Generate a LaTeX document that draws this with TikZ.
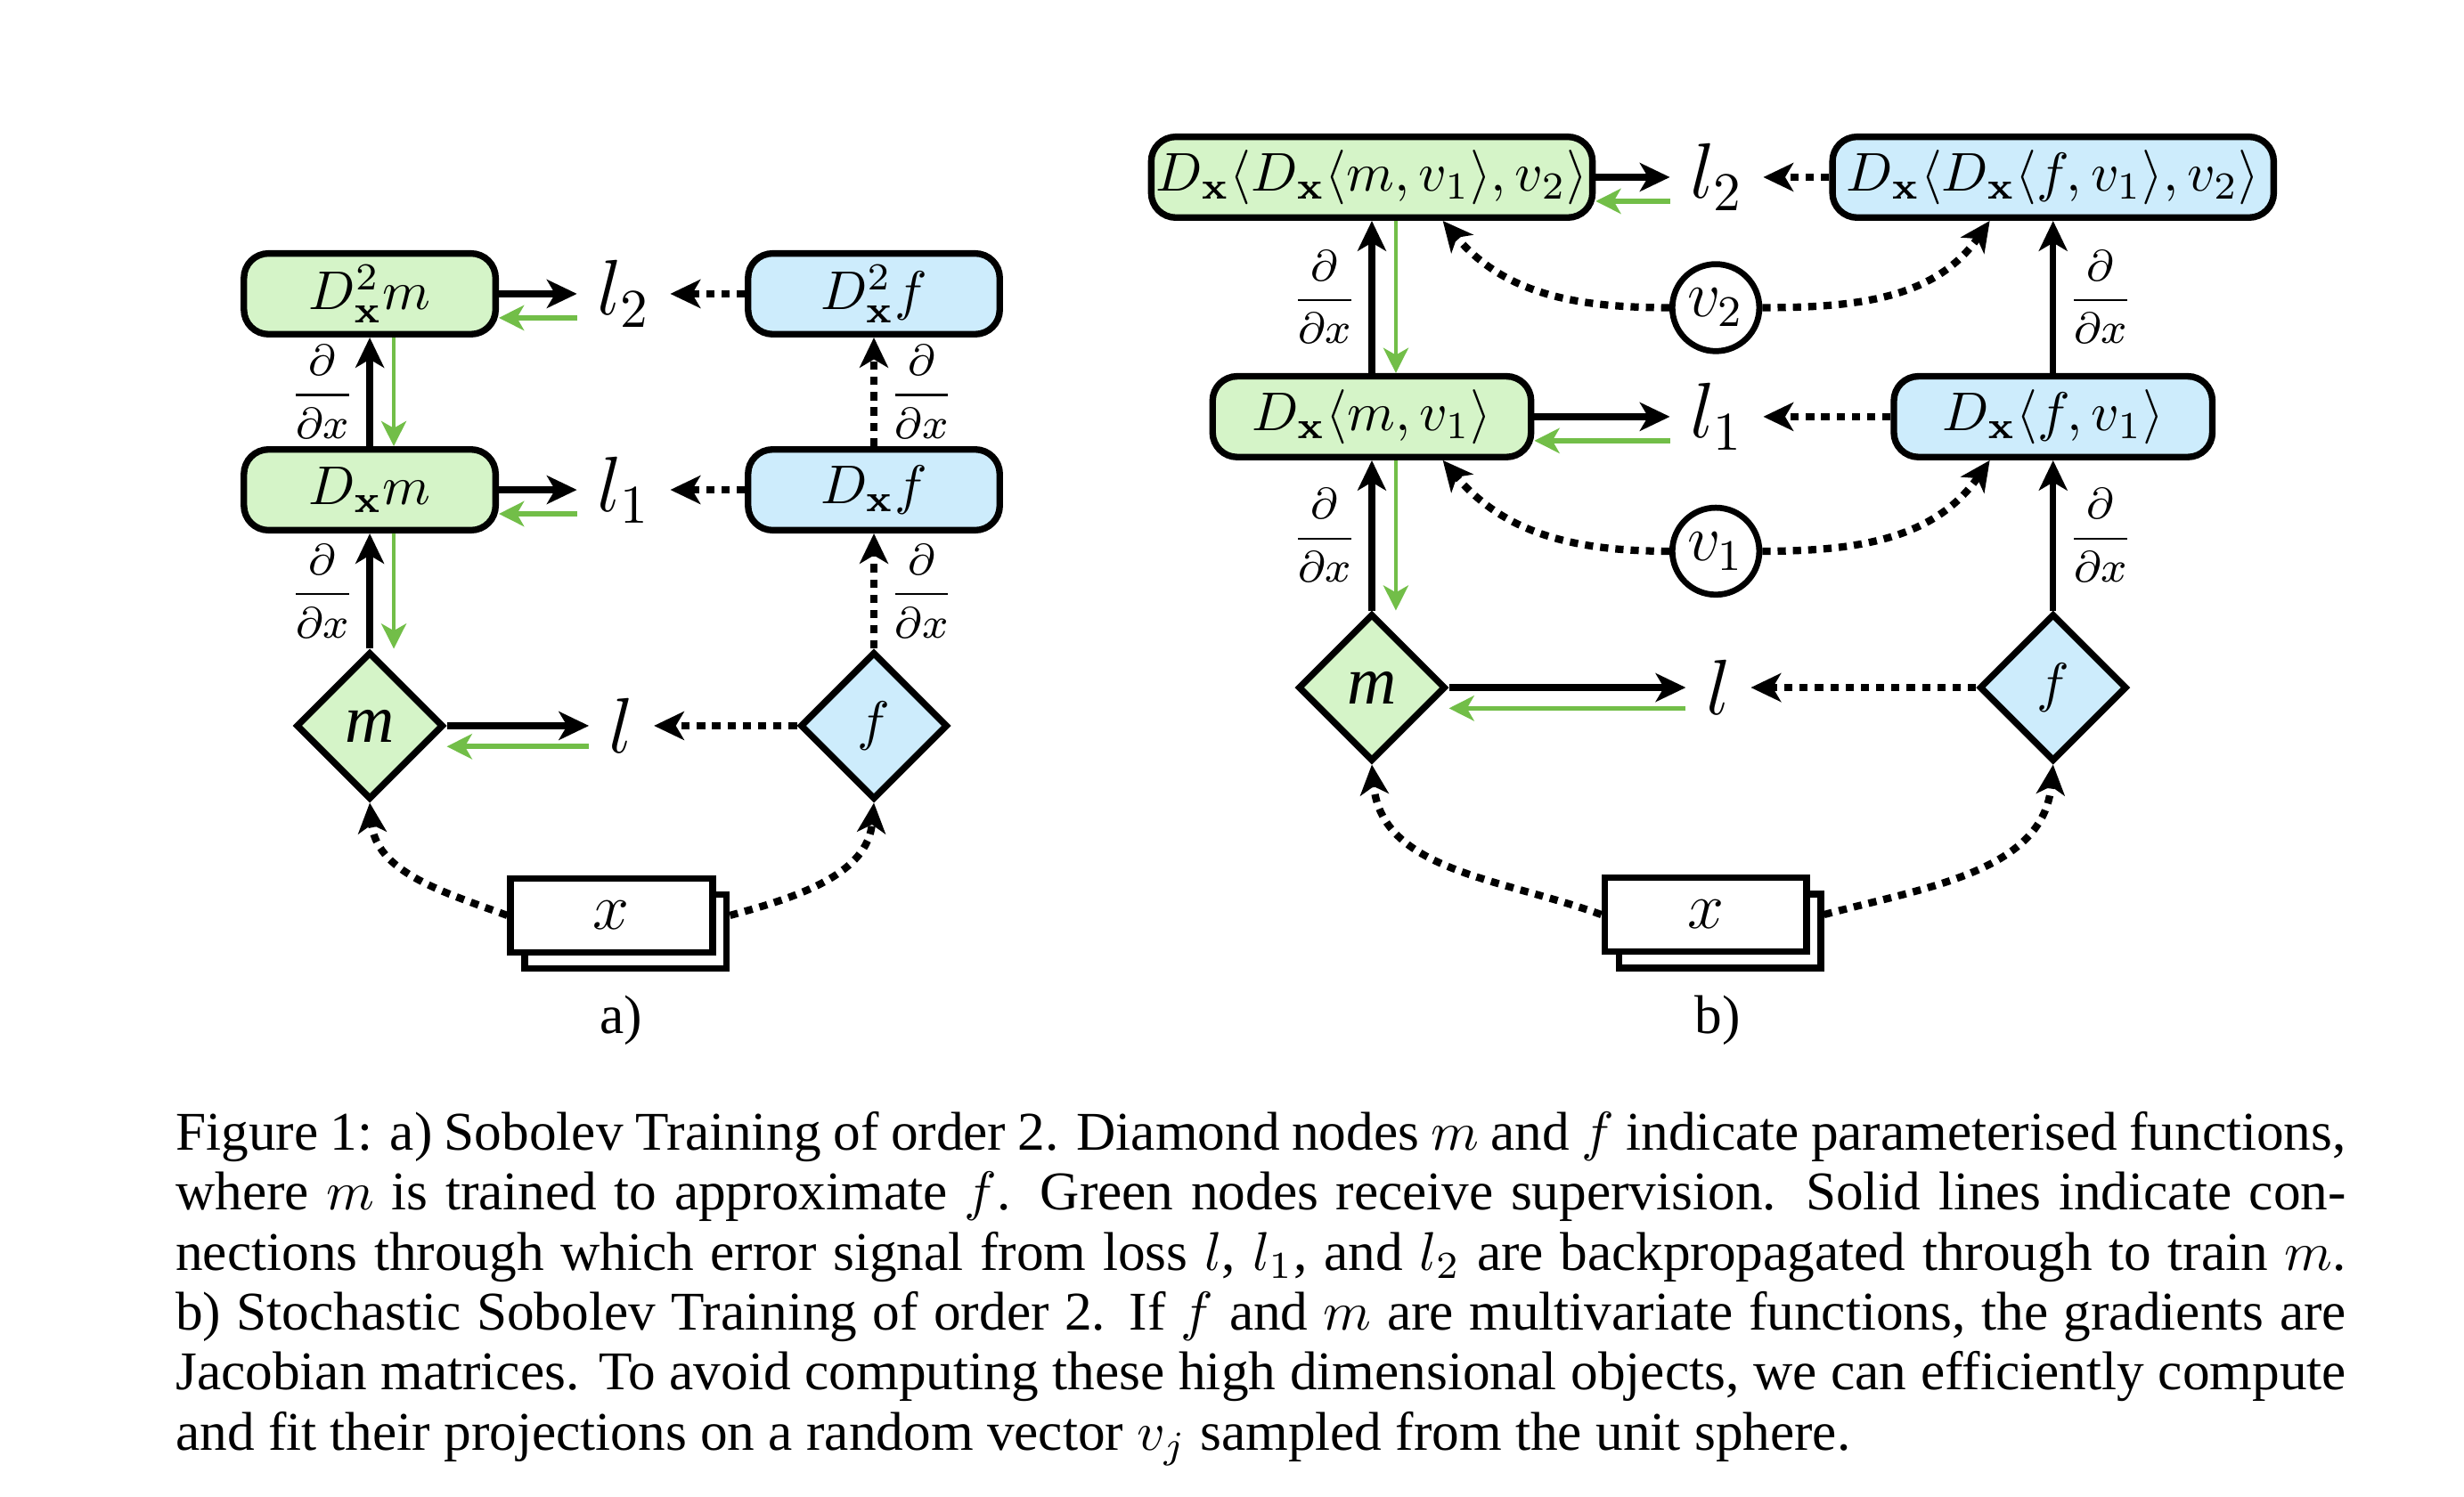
\documentclass[tikz,border=0pt]{standalone}
\usepackage[no-math]{fontspec}
\setmainfont{Liberation Serif}
\usepackage{amsmath}
\usetikzlibrary{arrows.meta,positioning,calc,shapes.geometric,shadows}

\definecolor{modelgreen}{RGB}{213,244,200}
\definecolor{targetblue}{RGB}{205,236,252}
\definecolor{gradgreen}{RGB}{114,190,72}

\newcommand{\ddx}{$\displaystyle\frac{\partial}{\partial x}$}
\newcommand{\mitem}{{\fontsize{12.5}{14}\selectfont\textit{m}}}

\begin{document}
\begin{tikzpicture}[
    font=\fontsize{10}{12}\selectfont,
    netbox/.style={draw, line width=1.2pt, rounded corners=4.5pt, minimum height=0.52cm, inner sep=0pt},
    model/.style={fill=modelgreen},
    target/.style={fill=targetblue},
    fnode/.style={diamond, draw, line width=1.2pt, aspect=1, minimum width=0.95cm, minimum height=0.95cm, inner sep=0pt},
    loss/.style={font=\fontsize{14.4}{17}\selectfont, inner sep=3.5pt},
    probe/.style={circle, draw, line width=1.1pt, minimum size=0.56cm, inner sep=0pt, font=\fontsize{12}{14}\selectfont},
    inputbox/.style={draw, fill=white, line width=1.2pt, minimum width=1.3cm, minimum height=0.476cm, inner sep=0pt,
        copy shadow={shadow xshift=2.6pt, shadow yshift=-3pt}, font=\fontsize{12}{14}\selectfont},
    fwd/.style={line width=1.2pt, -{Stealth[length=5.5pt,width=5.2pt,inset=1.5pt]}},
    tgt/.style={fwd, line width=1.35pt, dash pattern=on 1.5pt off 1.3pt},
    grad/.style={draw=gradgreen, line width=0.9pt, -{Stealth[length=4.6pt,width=4.6pt,inset=1.3pt,fill=gradgreen]}},
    gradv/.style={grad, line width=0.65pt},
    ddxl/.style={midway, left, inner sep=2pt, font=\footnotesize},
    ddxr/.style={midway, right, inner sep=2pt, font=\footnotesize}
]
    \useasboundingbox (0,0) rectangle (15.86,9.633);

    % a) Sobolev training of order 2
    \node[netbox, model, minimum width=1.62cm] (aD2m) at (2.38,7.741) {$D^2_{\mathbf{x}}m$};
    \node[netbox, target, minimum width=1.62cm] (aD2f) at (5.625,7.741) {$D^2_{\mathbf{x}}f$};
    \node[netbox, model, minimum width=1.62cm] (aDm) at (2.38,6.479) {$D_{\mathbf{x}}m$};
    \node[netbox, target, minimum width=1.62cm] (aDf) at (5.625,6.479) {$D_{\mathbf{x}}f$};
    \node[fnode, model] (am) at (2.38,4.96) {\mitem};
    \node[fnode, target] (af) at (5.625,4.96) {$f$};
    \node[loss] (al2) at (4.014,7.741) {$l_2$};
    \node[loss] (al1) at (4.014,6.479) {$l_1$};
    \node[loss] (al) at (4.0,4.96) {$l$};
    \node[inputbox] (ax) at (3.936,3.739) {$x$};
    \node[anchor=base] (alabel) at (3.997,2.976) {a)};

    % losses
    \draw[fwd] (aD2m.east) -- (al2.west);
    \draw[grad] ([yshift=-4.4pt]al2.west) -- ([yshift=-4.4pt]aD2m.east);
    \draw[tgt] (aD2f.west) -- (al2.east);
    \draw[fwd] (aDm.east) -- (al1.west);
    \draw[grad] ([yshift=-4.4pt]al1.west) -- ([yshift=-4.4pt]aDm.east);
    \draw[tgt] (aDf.west) -- (al1.east);
    \draw[fwd] (am.east) -- (al.west);
    \draw[grad] ([yshift=-3.8pt]al.west) -- ([yshift=-3.8pt]am.east);
    \draw[tgt] (af.west) -- (al.east);

    % derivatives
    \draw[fwd] (aDm.north) -- node[ddxl] {\ddx} (aD2m.south);
    \draw[gradv] ([xshift=4.4pt]aD2m.south) -- ([xshift=4.4pt]aDm.north);
    \draw[fwd] (am.north) -- node[ddxl] {\ddx} (aDm.south);
    \draw[gradv] ([xshift=4.4pt]aDm.south) -- ([xshift=4.4pt]am.north);
    \draw[tgt] (aDf.north) -- node[ddxr] {\ddx} (aD2f.south);
    \draw[tgt] (af.north) -- node[ddxr] {\ddx} (aDf.south);

    % inputs
    \draw[tgt] (ax.west) to[out=160, in=-85] (am.south);
    \draw[tgt] ([xshift=2.6pt]ax.east) to[out=15, in=-95] (af.south);

    % b) stochastic Sobolev training of order 2
    \node[netbox, model, minimum width=2.84cm] (bDDm) at (8.83,8.492) {$D_{\mathbf{x}}\langle D_{\mathbf{x}}\langle m, v_1\rangle, v_2\rangle$};
    \node[netbox, target, minimum width=2.84cm] (bDDf) at (13.215,8.492) {$D_{\mathbf{x}}\langle D_{\mathbf{x}}\langle f, v_1\rangle, v_2\rangle$};
    \node[netbox, model, minimum width=2.05cm] (bDm) at (8.83,6.95) {$D_{\mathbf{x}}\langle m, v_1\rangle$};
    \node[netbox, target, minimum width=2.05cm] (bDf) at (13.215,6.95) {$D_{\mathbf{x}}\langle f, v_1\rangle$};
    \node[fnode, model] (bm) at (8.83,5.206) {\mitem};
    \node[fnode, target] (bf) at (13.215,5.206) {$f$};
    \node[loss] (bl2) at (11.049,8.492) {$l_2$};
    \node[loss] (bl1) at (11.049,6.95) {$l_1$};
    \node[loss] (bl) at (11.06,5.206) {$l$};
    \node[probe] (bv2) at (11.044,7.652) {$v_2$};
    \node[probe] (bv1) at (11.044,6.084) {$v_1$};
    \node[inputbox] (bx) at (10.978,3.744) {$x$};
    \node[anchor=base] (blabel) at (11.055,2.976) {b)};

    % losses
    \draw[fwd] (bDDm.east) -- (bl2.west);
    \draw[grad] ([yshift=-4.4pt]bl2.west) -- ([yshift=-4.4pt]bDDm.east);
    \draw[tgt] (bDDf.west) -- (bl2.east);
    \draw[fwd] (bDm.east) -- (bl1.west);
    \draw[grad] ([yshift=-4.4pt]bl1.west) -- ([yshift=-4.4pt]bDm.east);
    \draw[tgt] (bDf.west) -- (bl1.east);
    \draw[fwd] (bm.east) -- (bl.west);
    \draw[grad] ([yshift=-3.8pt]bl.west) -- ([yshift=-3.8pt]bm.east);
    \draw[tgt] (bf.west) -- (bl.east);

    % directional derivatives
    \draw[fwd] (bDm.north) -- node[ddxl] {\ddx} (bDDm.south);
    \draw[gradv] ([xshift=4.4pt]bDDm.south) -- ([xshift=4.4pt]bDm.north);
    \draw[fwd] (bm.north) -- node[ddxl] {\ddx} (bDm.south);
    \draw[gradv] ([xshift=4.4pt]bDm.south) -- ([xshift=4.4pt]bm.north);
    \draw[fwd] (bDf.north) -- node[ddxr] {\ddx} (bDDf.south);
    \draw[fwd] (bf.north) -- node[ddxr] {\ddx} (bDf.south);

    % random vectors
    \draw[tgt] (bv2.west) to[out=180, in=-50] ([xshift=13pt]bDDm.south);
    \draw[tgt] (bv2.east) to[out=0, in=-125] ([xshift=-11.6pt]bDDf.south);
    \draw[tgt] (bv1.west) to[out=180, in=-50] ([xshift=13pt]bDm.south);
    \draw[tgt] (bv1.east) to[out=0, in=-125] ([xshift=-11.6pt]bDf.south);

    % inputs
    \draw[tgt] (bx.west) to[out=160, in=-85] (bm.south);
    \draw[tgt] ([xshift=2.6pt]bx.east) to[out=15, in=-95] (bf.south);

    % caption
    \node[anchor=north west, text width=13.97cm, align=justify, inner sep=0pt,
          font=\fontsize{10}{11}\selectfont] (caption) at (1.124,2.507)
    {\strut Figure 1: a) Sobolev Training of order 2. Diamond nodes $m$ and $f$ indicate parameterised functions,\linebreak
     where $m$ is trained to approximate $f$. Green nodes receive supervision. Solid lines indicate con-\linebreak
     nections through which error signal from loss $l$, $l_1$, and $l_2$ are backpropagated through to train $m$.\linebreak
     b) Stochastic Sobolev Training of order 2. If $f$ and $m$ are multivariate functions, the gradients are\linebreak
     Jacobian matrices. To avoid computing these high dimensional objects, we can efficiently compute\linebreak
     and fit their projections on a random vector $v_j$ sampled from the unit sphere.};
\end{tikzpicture}
\end{document}
